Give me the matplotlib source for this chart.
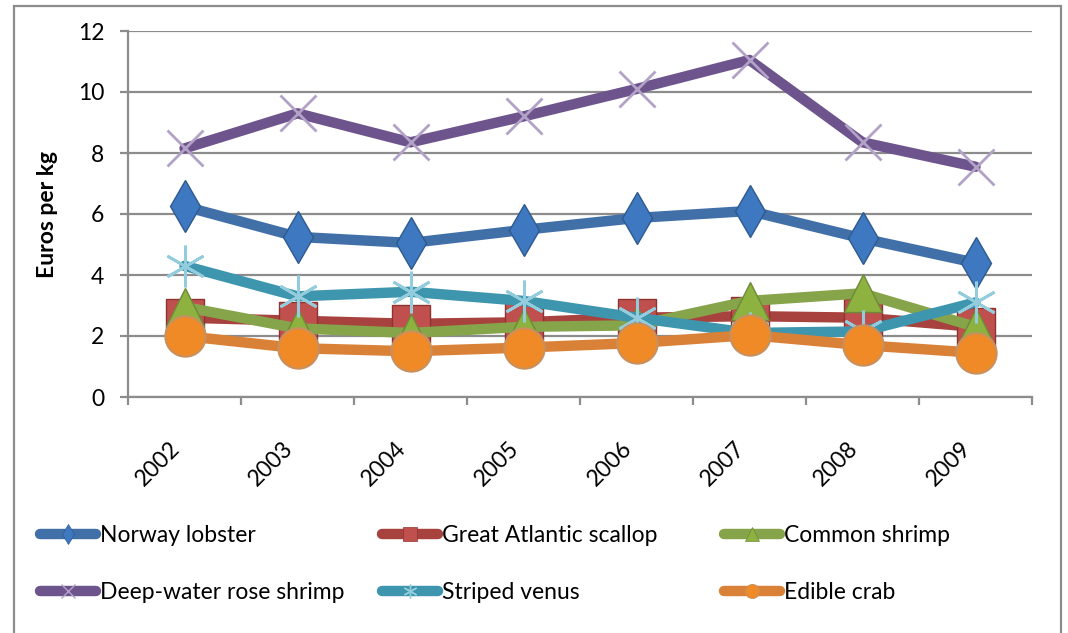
import numpy as np
import matplotlib
matplotlib.use("Agg")
from matplotlib import pyplot as plt
from matplotlib.lines import Line2D
from matplotlib.patches import Rectangle

plt.rcParams['font.family'] = ['Lato', 'DejaVu Sans']

years = ['2002', '2003', '2004', '2005', '2006', '2007', '2008', '2009']

norway_lobster = [6.25, 5.25, 5.05, 5.48, 5.87, 6.1, 5.2, 4.4]
great_atlantic_scallop = [2.6, 2.5, 2.4, 2.45, 2.6, 2.65, 2.6, 2.3]
common_shrimp = [2.95, 2.25, 2.1, 2.3, 2.35, 3.15, 3.4, 2.3]
deep_water_rose_shrimp = [8.15, 9.3, 8.35, 9.2, 10.1, 11.05, 8.35, 7.55]
striped_venus = [4.3, 3.3, 3.45, 3.15, 2.6, 2.1, 2.15, 3.1]
edible_crab = [2.0, 1.6, 1.5, 1.62, 1.77, 2.03, 1.7, 1.45]

series_names = ['Norway lobster', 'Great Atlantic scallop', 'Common shrimp',
                'Deep-water rose shrimp', 'Striped venus', 'Edible crab']
series_values = [norway_lobster, great_atlantic_scallop, common_shrimp,
                 deep_water_rose_shrimp, striped_venus, edible_crab]

# line colour, marker, marker face, marker edge, marker size, marker edge width
styles = [
    ('#4170A8', 'd', '#3D78C0', '#2E5A8E', 26, 1.0),
    ('#A8423F', 's', '#C0504D', '#8E3330', 27, 1.0),
    ('#86A44A', '^', '#8DB23F', '#6E8A38', 27, 1.0),
    ('#6E548D', 'x', '#B3A2C7', '#B3A2C7', 26, 2.0),
    ('#3D96AE', (6, 2, 0), '#93CDDD', '#93CDDD', 30, 2.0),
    ('#DA8138', 'o', '#F08A26', '#C8905F', 29, 1.5),
]

fig = plt.figure(figsize=(10.68, 6.33), dpi=100)
ax = fig.add_axes([128 / 1068, 1 - 397 / 633, (1032 - 128) / 1068, (397 - 31) / 633])

x = np.arange(len(years))
grid_col = '#8C8C8C'

for name, vals, st in zip(series_names, series_values, styles):
    col, mk, face, edge, ms, mew = st
    ax.plot(x, vals, color=col, lw=7.5, solid_capstyle='round',
            marker=mk, markersize=ms, markerfacecolor=face,
            markeredgecolor=edge, markeredgewidth=mew, label=name)

ax.set_xlim(-0.5, len(years) - 0.5)
ax.set_ylim(0, 12)
ax.set_yticks(np.arange(0, 13, 2))
ax.yaxis.grid(True, color=grid_col, lw=1.6)
ax.set_axisbelow(True)

ax.set_xticks(x)
ax.set_xticklabels(years, rotation=45, ha='right', va='top', fontsize=16.5)
ax.set_xticks(np.arange(-0.5, len(years), 1), minor=True)
ax.tick_params(axis='x', which='major', length=0, pad=29)
ax.tick_params(axis='x', which='minor', length=6, width=1.6, color=grid_col)
ax.tick_params(axis='y', length=6, width=1.6, color=grid_col, pad=11, labelsize=16.5)

for sp in ['top', 'right']:
    ax.spines[sp].set_visible(False)
for sp in ['left', 'bottom']:
    ax.spines[sp].set_color(grid_col)
    ax.spines[sp].set_linewidth(1.6)

ax.set_ylabel('Euros per kg', fontsize=16.5, fontweight='bold', labelpad=14)

# legend: three evenly spaced columns like Excel
handles = []
for name, st in zip(series_names, styles):
    col, mk, face, edge, ms, mew = st
    handles.append(Line2D([], [], color=col, lw=7.5, solid_capstyle='round',
                          marker=mk, markersize=10, markerfacecolor=face,
                          markeredgecolor=edge, markeredgewidth=mew * 0.5, label=name))

col_x = [40 / 1068, 382 / 1068, 724 / 1068]
for i in range(3):
    leg = fig.legend([handles[i], handles[i + 3]], [series_names[i], series_names[i + 3]],
                     loc='upper left', bbox_to_anchor=(col_x[i], 1 - 525 / 633),
                     frameon=False, fontsize=16.5, handlelength=2.45, handletextpad=0.15,
                     labelspacing=1.55, borderaxespad=0, borderpad=0)

fig.patches.append(Rectangle((14 / 1068, -0.01), (1061 - 14) / 1068, 1.0,
                             transform=fig.transFigure, fill=False,
                             edgecolor='#8C8C8C', lw=1.6))

fig.savefig('out.png', dpi=100)
